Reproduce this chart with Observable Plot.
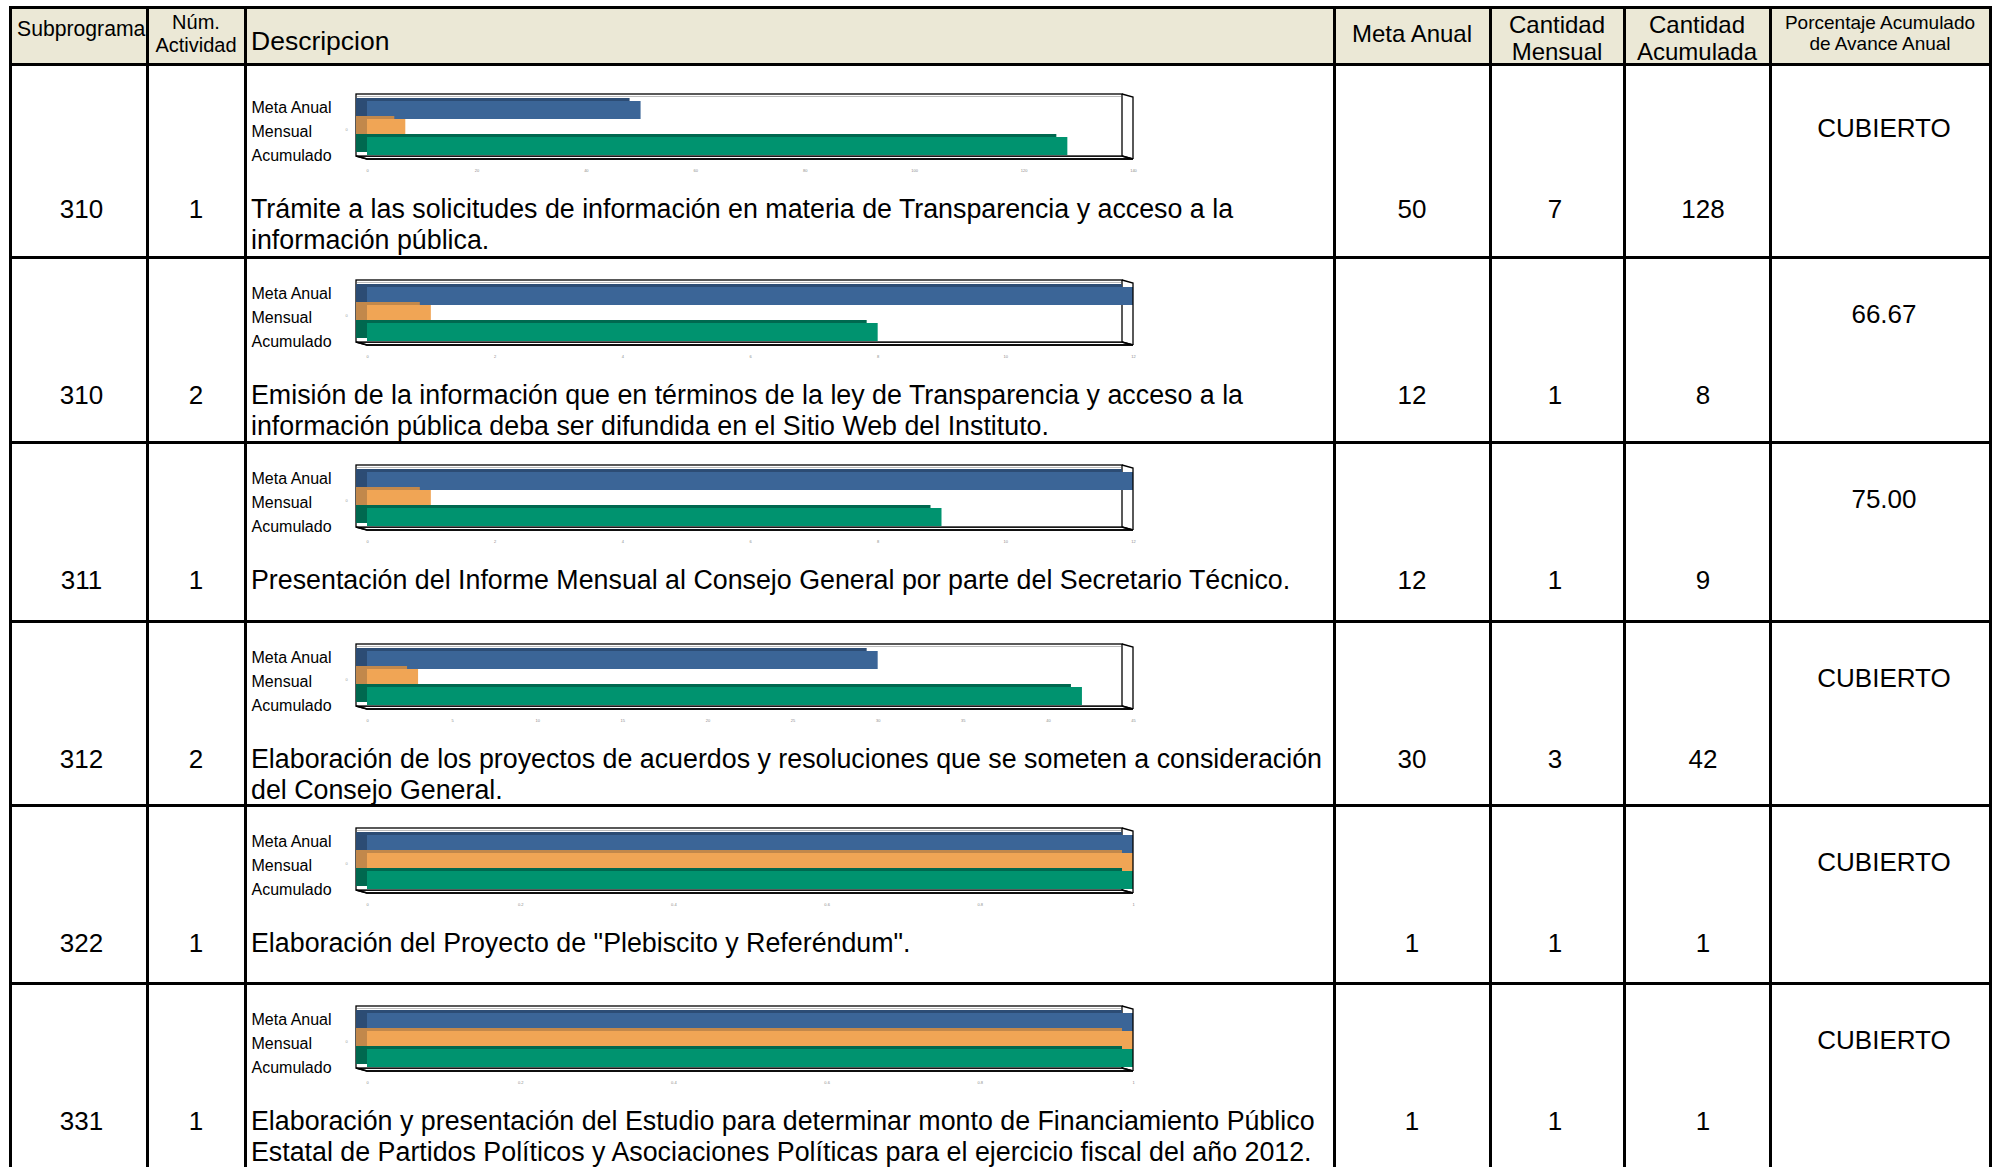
<!DOCTYPE html>
<html><head><meta charset="utf-8">
<script src="https://cdn.jsdelivr.net/npm/d3@7"></script>
<script src="https://cdn.jsdelivr.net/npm/@observablehq/plot@0.6"></script>
<style>
body{margin:0;background:#fff;font-family:"Liberation Sans",Arial,sans-serif;}
#page{position:relative;width:2001px;height:1167px;overflow:hidden;background:#fff;}
.t{position:absolute;color:#000;white-space:pre;}
.ln{position:absolute;background:#000;}
.chart{position:absolute;}
</style></head><body><div id="page"></div>
<script>
// ---------- DATA ----------
const headerLabels = ["Subprograma", "Núm.\nActividad", "Descripcion", "Meta Anual", "Cantidad\nMensual", "Cantidad\nAcumulada", "Porcentaje Acumulado\nde Avance Anual"];
const subprogramas = ["310", "310", "311", "312", "322", "331"];
const actividades = ["1", "2", "1", "2", "1", "1"];
const descripciones = [
  "Trámite a las solicitudes de información en materia de Transparencia y acceso a la\ninformación pública.",
  "Emisión de la información que en términos de la ley de Transparencia y acceso a la\ninformación pública deba ser difundida en el Sitio Web del Instituto.",
  "Presentación del Informe Mensual al Consejo General por parte del Secretario Técnico.",
  "Elaboración de los proyectos de acuerdos y resoluciones que se someten a consideración\ndel Consejo General.",
  "Elaboración del Proyecto de \"Plebiscito y Referéndum\".",
  "Elaboración y presentación del Estudio para determinar monto de Financiamiento Público\nEstatal de Partidos Políticos y Asociaciones Políticas para el ejercicio fiscal del año 2012."
];
const metaAnual = [50, 12, 12, 30, 1, 1];
const cantidadMensual = [7, 1, 1, 3, 1, 1];
const cantidadAcumulada = [128, 8, 9, 42, 1, 1];
const porcentaje = ["CUBIERTO", "66.67", "75.00", "CUBIERTO", "CUBIERTO", "CUBIERTO"];
const seriesNames = ["Meta Anual", "Mensual", "Acumulado"];
const axisMax = [140, 12, 12, 45, 1, 1];
const tickStep = [20, 2, 2, 5, 0.2, 0.2];

// ---------- LAYOUT / STYLE ----------
const colX = [10, 147, 245, 1334, 1490, 1624, 1770, 1990];
const rowY = [7, 64, 257, 442, 621, 805, 983, 1300];
const frontColors = ["#3b6597", "#f0a555", "#00936f"];
const sideColors = ["#2c4c74", "#c2884b", "#00684f"];
const labelDy = [-2.5, 3.5, 9];
const page = document.getElementById("page");

function addDiv(cls, css) {
  const d = document.createElement("div");
  d.className = cls;
  Object.assign(d.style, css);
  page.appendChild(d);
  return d;
}
function addText(text, {left, width, cy, size, lh, align = "center"}) {
  const n = text.split("\n").length;
  const d = addDiv("t", {
    left: left + "px", top: (cy - n * lh / 2) + "px",
    fontSize: size + "px", lineHeight: lh + "px", textAlign: align
  });
  if (width != null) d.style.width = width + "px";
  d.textContent = text;
  return d;
}

// header background
addDiv("", {position: "absolute", left: colX[0] + "px", top: rowY[0] + "px",
  width: (colX[7] - colX[0]) + "px", height: (rowY[1] - rowY[0]) + "px", background: "#ebe8d6"});

// header text
const hSize = [21.2, 20, 26.5, 24, 24, 24, 19];
const hLh = [24, 23, 30, 28, 27, 27, 21];
const hCy = [29, 33.5, 41, 34, 37.5, 37.5, 32.5];
headerLabels.forEach((h, i) => {
  if (i === 0) addText(h, {left: 17, cy: hCy[i], size: hSize[i], lh: hLh[i], align: "left"});
  else if (i === 2) addText(h, {left: 251, cy: hCy[i], size: hSize[i], lh: hLh[i], align: "left"});
  else addText(h, {left: colX[i], width: colX[i + 1] - colX[i], cy: hCy[i], size: hSize[i], lh: hLh[i]});
});

// body rows
subprogramas.forEach((sp, i) => {
  const ct = rowY[i + 1] + (i === 0 ? 7 : 0);
  const cy = ct + 138;
  addText(sp, {left: colX[0] + 3, width: colX[1] - colX[0], cy, size: 26, lh: 30});
  addText(actividades[i], {left: colX[1], width: colX[2] - colX[1], cy, size: 26, lh: 30});
  const lines = descripciones[i].split("\n").length;
  addText(descripciones[i], {left: 251, cy: cy + (lines - 1) * 15.5, size: 26.8, lh: 31, align: "left"});
  addText(String(metaAnual[i]), {left: colX[3], width: colX[4] - colX[3], cy, size: 26, lh: 30});
  addText(String(cantidadMensual[i]), {left: colX[4] - 2, width: colX[5] - colX[4], cy, size: 26, lh: 30});
  addText(String(cantidadAcumulada[i]), {left: colX[5] + 6, width: colX[6] - colX[5], cy, size: 26, lh: 30});
  addText(porcentaje[i], {left: colX[6] + 4, width: colX[7] - colX[6], cy: ct + 57, size: 26, lh: 30});

  // chart
  const values = [metaAnual[i], cantidadMensual[i], cantidadAcumulada[i]];
  const data = seriesNames.map((s, k) => ({series: s, value: values[k]}));
  const ticks = d3.range(0, axisMax[i] + tickStep[i] / 2, tickStep[i]);
  const W = 900, mL = 122, mR = 12, mT = 20, mB = 22, H = 104, DX = -11, DY = -3;

  const boxBack = (index, scales, vals, dim) => {
    const L = dim.marginLeft, R = dim.width - dim.marginRight, T = dim.marginTop, B = dim.height - dim.marginBottom;
    const g = d3.create("svg:g");
    g.append("path").attr("d", `M${L + DX},${B + DY}L${R + DX},${B + DY}L${R},${B}L${L},${B}Z`)
      .attr("fill", "#fff").attr("stroke", "#000").attr("stroke-width", 1.3);
    g.append("rect").attr("x", L + DX).attr("y", T + DY).attr("width", R - L).attr("height", B - T)
      .attr("fill", "#fff").attr("stroke", "#000").attr("stroke-width", 1.3);
    g.append("line").attr("x1", L + DX + 1).attr("x2", R + DX - 1).attr("y1", T + DY + 2.5).attr("y2", T + DY + 2.5)
      .attr("stroke", "#bbb").attr("stroke-width", 1);
    return g.node();
  };
  const boxFront = (index, scales, vals, dim) => {
    const L = dim.marginLeft, R = dim.width - dim.marginRight, T = dim.marginTop, B = dim.height - dim.marginBottom;
    const g = d3.create("svg:g").attr("fill", "none").attr("stroke", "#000").attr("stroke-width", 1.3);
    g.append("path").attr("d", `M${R + DX},${T + DY}L${R},${T}L${R},${B}`);
    g.append("path").attr("d", `M${L + DX},${B + DY}L${L},${B}L${R},${B}L${R + DX},${B + DY}`);
    return g.node();
  };

  const marks = [boxBack];
  data.forEach((d, k) => {
    marks.push(Plot.barX([d], {x: "value", y: "series", fill: sideColors[k], dx: DX, dy: DY}));
    marks.push(Plot.barX([d], {x: "value", y: "series", fill: frontColors[k]}));
  });
  marks.push(boxFront);
  seriesNames.forEach((s, k) => {
    marks.push(Plot.text([s], {y: d => d, frameAnchor: "left", dx: -(mL - 6), dy: labelDy[k],
      textAnchor: "start", fontSize: 16, fill: "#000"}));
  });
  marks.push(Plot.text(ticks, {x: d => d, frameAnchor: "bottom", dy: 12, fontSize: 4, fill: "#8a8a8a",
    text: d => d3.format("~g")(d)}));
  marks.push(Plot.text(["0"], {frameAnchor: "left", dx: -22, dy: 1, fontSize: 4, fill: "#9a9a9a"}));

  const svg = Plot.plot({
    width: W, height: H, marginLeft: mL, marginRight: mR, marginTop: mT, marginBottom: mB,
    x: {domain: [0, axisMax[i]], axis: null},
    y: {domain: seriesNames, axis: null, paddingInner: 0, paddingOuter: 0.18},
    style: {background: "transparent", fontFamily: "Liberation Sans, Arial, sans-serif", overflow: "visible"},
    marks
  });
  const wrap = addDiv("chart", {left: "245px", top: (ct + 26 - mT) + "px"});
  wrap.appendChild(svg);
});

// grid lines
const LW = 3;
colX.forEach(x => addDiv("ln", {left: (x - LW / 2) + "px", top: (rowY[0] - LW / 2) + "px", width: LW + "px", height: "1200px"}));
rowY.slice(0, 7).forEach(y => addDiv("ln", {left: (colX[0] - LW / 2) + "px", top: (y - LW / 2) + "px",
  width: (colX[7] - colX[0] + LW) + "px", height: LW + "px"}));
</script></body></html>
